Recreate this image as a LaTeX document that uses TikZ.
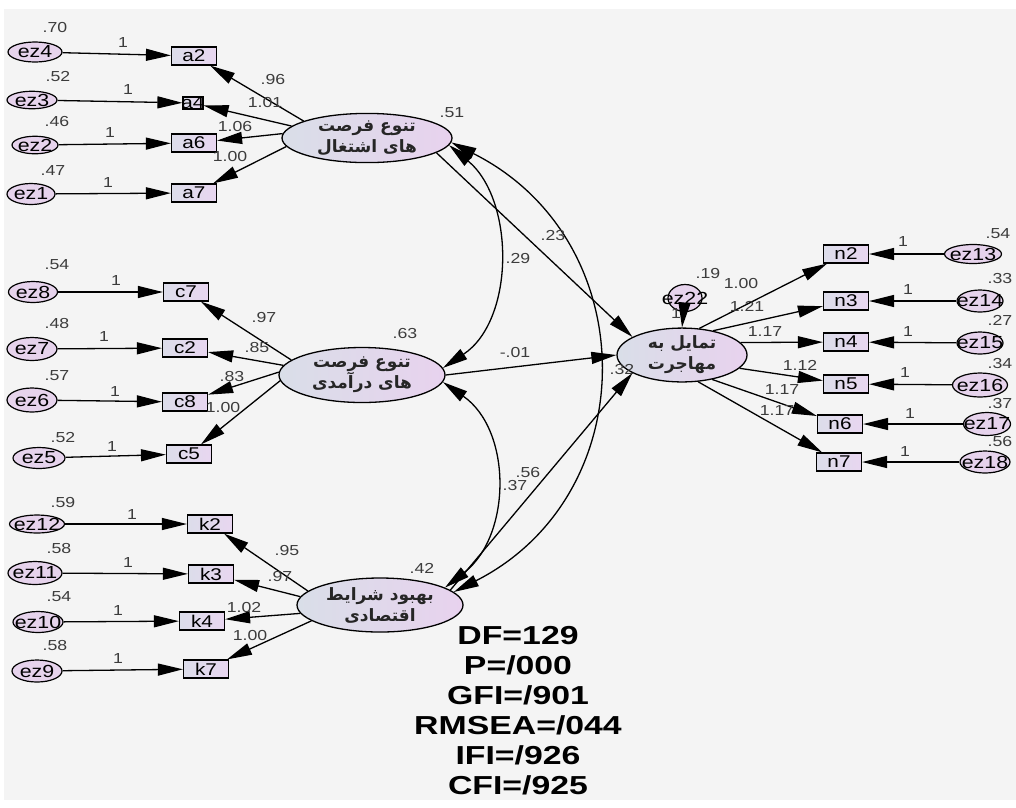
\documentclass[tikz,border=0pt]{standalone}
\usepackage{fontspec}
\setmainfont{Liberation Sans}[FakeStretch=1.22]
\newfontfamily\fafont[Script=Arabic]{DejaVu Sans Bold}
\newfontfamily\statfont{Liberation Sans}[FakeStretch=1.3]
\TeXXeTstate=1
\usetikzlibrary{shapes.geometric,arrows.meta}
\definecolor{bg}{HTML}{F4F4F4}
\definecolor{latL}{HTML}{D9DEE8}
\definecolor{latR}{HTML}{E8D2EE}
\definecolor{obsL}{HTML}{DCDDEA}
\definecolor{obsR}{HTML}{E8D6F0}
\definecolor{errc}{HTML}{E6D3EC}
\definecolor{labc}{HTML}{3C3C3C}
\newcommand{\zwbox}[1]{\makebox[0pt]{#1}}
\begin{document}
\begin{tikzpicture}[x=1pt,y=-1pt,
  lat/.style={ellipse, draw, line width=1.3pt, left color=latL, right color=latR, inner sep=0, align=center, font=\fafont\fontsize{17}{21}\selectfont, text=black!85},
  obs/.style={rectangle, draw, line width=1.2pt, left color=obsL, right color=obsR, minimum width=45pt, minimum height=18pt, inner sep=0, font=\fontsize{17}{17}\selectfont},
  err/.style={ellipse, draw, line width=1.2pt, fill=errc, minimum width=50pt, minimum height=21pt, inner sep=0, font=\fontsize{17.5}{17.5}\selectfont},
  lab/.style={inner sep=0, text=labc, font=\fontsize{14.5}{14.5}\selectfont},
  arr/.style={-{Triangle[length=25pt,width=12pt]}, line width=1.3pt},
  darr/.style={{Triangle[length=25pt,width=12pt]}-{Triangle[length=25pt,width=12pt]}, line width=1.3pt},
]
\useasboundingbox (0,0) rectangle (1016,807);
\fill[bg] (4,9) rectangle (1016,800);

% latent variables
\node[lat, minimum width=170pt, minimum height=47pt] (L1) at (367,138) {\beginR تنوع فرصت\endR\\\beginR های اشتغال\endR};
\node[lat, minimum width=166pt, minimum height=55pt] (L2) at (362,375) {\beginR تنوع فرصت\endR\\\beginR های درآمدی\endR};
\node[lat, minimum width=166pt, minimum height=54pt] (L3) at (380,605) {\beginR بهبود شرایط\endR\\\beginR اقتصادی\endR};
\node[lat, minimum width=130pt, minimum height=45pt] (L4) at (682,355) {\beginR تمایل به\endR\\\beginR مهاجرت\endR};

% group 1
\node[err,minimum width=54pt,minimum height=20pt] (ez4) at (35,52) {\zwbox{ez4}};
\node[err,minimum width=50pt,minimum height=17pt] (ez3) at (32,100) {\zwbox{ez3}};
\node[err,minimum width=46pt,minimum height=17pt] (ez2) at (35,145) {\zwbox{ez2}};
\node[err,minimum width=48pt,minimum height=21pt] (ez1) at (31,194) {\zwbox{ez1}};
\node[obs] (a2) at (194,56) {\zwbox{a2}};
\node[obs,minimum width=20pt,minimum height=12pt] (a4) at (193,103) {\zwbox{a4}};
\node[obs] (a6) at (194,143) {\zwbox{a6}};
\node[obs] (a7) at (194,193) {\zwbox{a7}};

% group 2
\node[err,minimum width=49pt,minimum height=21pt] (ez8) at (33,292) {\zwbox{ez8}};
\node[err,minimum width=50pt,minimum height=23pt] (ez7) at (32,349) {\zwbox{ez7}};
\node[err,minimum width=50pt,minimum height=24pt] (ez6) at (32,400) {\zwbox{ez6}};
\node[err,minimum width=52pt,minimum height=21pt] (ez5) at (39,458) {\zwbox{ez5}};
\node[obs] (c7) at (186,292) {\zwbox{c7}};
\node[obs] (c2) at (185,348) {\zwbox{c2}};
\node[obs] (c8) at (185,402) {\zwbox{c8}};
\node[obs] (c5) at (189,454) {\zwbox{c5}};

% group 3
\node[err,minimum width=55pt,minimum height=18pt] (ez12) at (37,524) {\zwbox{ez12}};
\node[err,minimum width=54pt,minimum height=23pt] (ez11) at (35,573) {\zwbox{ez11}};
\node[err,minimum width=50pt,minimum height=21pt] (ez10) at (38,622) {\zwbox{ez10}};
\node[err,minimum width=50pt,minimum height=22pt] (ez9) at (37,671) {\zwbox{ez9}};
\node[obs] (k2) at (210,524) {\zwbox{k2}};
\node[obs] (k3) at (211,574) {\zwbox{k3}};
\node[obs] (k4) at (202,621) {\zwbox{k4}};
\node[obs] (k7) at (206,669) {\zwbox{k7}};

% group 4
\node[err,minimum width=34pt,minimum height=27pt] (ez22) at (685,298) {\zwbox{ez22}};
\node[obs] (n2) at (846,254) {\zwbox{n2}};
\node[obs] (n3) at (846,301) {\zwbox{n3}};
\node[obs] (n4) at (846,342) {\zwbox{n4}};
\node[obs] (n5) at (846,384) {\zwbox{n5}};
\node[obs] (n6) at (840,424) {\zwbox{n6}};
\node[obs] (n7) at (839,462) {\zwbox{n7}};
\node[err,minimum width=57pt,minimum height=19pt] (ez13) at (973,254) {\zwbox{ez13}};
\node[err,minimum width=46pt,minimum height=22pt] (ez14) at (980,301) {\zwbox{ez14}};
\node[err,minimum width=46pt,minimum height=22pt] (ez15) at (980,343) {\zwbox{ez15}};
\node[err,minimum width=55pt,minimum height=24pt] (ez16) at (980,385) {\zwbox{ez16}};
\node[err,minimum width=47pt,minimum height=23pt] (ez17) at (987,424) {\zwbox{ez17}};
\node[err,minimum width=50pt,minimum height=22pt] (ez18) at (985,462) {\zwbox{ez18}};

% error arrows
\draw[arr] (ez4) -- (a2);
\draw[arr] (ez3) -- (a4);
\draw[arr] (ez2) -- (a6);
\draw[arr] (ez1) -- (a7);
\draw[arr] (ez8) -- (c7);
\draw[arr] (ez7) -- (c2);
\draw[arr] (ez6) -- (c8);
\draw[arr] (ez5) -- (c5);
\draw[arr] (ez12) -- (k2);
\draw[arr] (ez11) -- (k3);
\draw[arr] (ez10) -- (k4);
\draw[arr] (ez9) -- (k7);
\draw[arr] (ez13) -- (n2);
\draw[arr] (ez14) -- (n3);
\draw[arr] (ez15) -- (n4);
\draw[arr] (ez16) -- (n5);
\draw[arr] (ez17) -- (n6);
\draw[arr] (ez18) -- (n7);
\draw[arr] (ez22) -- (L4.north);

% loadings
\draw[arr] (L1.165) -- (a2);
\draw[arr] (L1.171) -- (a4);
\draw[arr] (L1.177) -- (a6);
\draw[arr] (L1.186) -- (a7);
\draw[arr] (L2.168) -- (c7);
\draw[arr] (L2.173) -- (c2);
\draw[arr] (L2.178) -- (c8);
\draw[arr] (L2.184) -- (c5);
\draw[arr] (L3.169) -- (k2);
\draw[arr] (L3.174) -- (k3);
\draw[arr] (L3.186) -- (k4);
\draw[arr] (L3.193) -- (k7);
\draw[arr] (L4.57) -- (n2);
\draw[arr] (L4.38) -- (n3);
\draw[arr] (L4.12) -- (n4);
\draw[arr] (L4.-13) -- (n5);
\draw[arr] (L4.-39) -- (n6);
\draw[arr] (L4.-59) -- (n7);

% structural paths and covariances
\draw[arr] (L1.-12) -- (L4.160);
\draw[arr] (L2.east) -- (L4.west);
\draw[arr] (L3.12) -- (L4.200);
\draw[darr] (L1.-5) .. controls (515,200) and (515,320) .. (L2.5);
\draw[darr] (L2.-5) .. controls (512,430) and (512,535) .. (L3.15);
\draw[darr] (L1.-3) .. controls (645,240) and (645,495) .. (L3.10);

% labels group 1
\node[lab] (v70) at (55,28) {.70};
\node[lab] (w4) at (123,43) {1};
\node[lab] (v52a) at (58,77) {.52};
\node[lab] (w3) at (128,90) {1};
\node[lab] (v46) at (57,122) {.46};
\node[lab] (w2) at (110,133) {1};
\node[lab] (v47) at (53,171) {.47};
\node[lab] (w1) at (108,183) {1};
\node[lab] (la2) at (273,80) {.96};
\node[lab] (la4) at (265,103) {1.01};
\node[lab] (la6) at (235,127) {1.06};
\node[lab] (la7) at (230,157) {1.00};
% labels group 2
\node[lab] (v54a) at (57,265) {.54};
\node[lab] (w8) at (116,281) {1};
\node[lab] (v48) at (57,323) {.48};
\node[lab] (w7) at (104,337) {1};
\node[lab] (v57) at (57,376) {.57};
\node[lab] (w6) at (115,391) {1};
\node[lab] (v52b) at (63,437) {.52};
\node[lab] (w5) at (112,446) {1};
\node[lab] (lc7) at (264,317) {.97};
\node[lab] (lc2) at (257,347) {.85};
\node[lab] (lc8) at (232,376) {.83};
\node[lab] (lc5) at (223,407) {1.00};
% labels group 3
\node[lab] (v59) at (63,502) {.59};
\node[lab] (w12) at (132,514) {1};
\node[lab] (v58a) at (59,548) {.58};
\node[lab] (w11) at (128,562) {1};
\node[lab] (v54b) at (59,597) {.54};
\node[lab] (w10) at (118,610) {1};
\node[lab] (v58b) at (55,645) {.58};
\node[lab] (w9) at (118,658) {1};
\node[lab] (lk2) at (287,550) {.95};
\node[lab] (lk3) at (280,576) {.97};
\node[lab] (lk4) at (244,607) {1.02};
\node[lab] (lk7) at (250,635) {1.00};
% latent labels
\node[lab] (v51) at (452,113) {.51};
\node[lab] (v63) at (405,333) {.63};
\node[lab] (v42) at (422,568) {.42};
\node[lab] (p23) at (553,235) {.23};
\node[lab] (p29) at (518,258) {.29};
\node[lab] (p01) at (515,352) {-.01};
\node[lab] (p32) at (622,369) {.32};
\node[lab] (p56) at (528,472) {.56};
\node[lab] (p37) at (515,485) {.37};
% labels group 4
\node[lab] (v19) at (708,273) {.19};
\node[lab] (w22) at (676,314) {1};
\node[lab] (ln2) at (741,283) {1.00};
\node[lab] (ln3) at (747,306) {1.21};
\node[lab] (ln4) at (765,332) {1.17};
\node[lab] (ln5) at (800,365) {1.12};
\node[lab] (ln6) at (782,390) {1.17};
\node[lab] (ln7) at (777,411) {1.17};
\node[lab] (w13) at (903,242) {1};
\node[lab] (w14) at (908,290) {1};
\node[lab] (w15) at (908,332) {1};
\node[lab] (w16) at (905,373) {1};
\node[lab] (w17) at (910,413) {1};
\node[lab] (w18) at (905,451) {1};
\node[lab] (v54c) at (998,234) {.54};
\node[lab] (v33) at (1000,278) {.33};
\node[lab] (v27) at (1000,320) {.27};
\node[lab] (v34) at (1000,363) {.34};
\node[lab] (v37) at (1000,403) {.37};
\node[lab] (v56) at (1000,441) {.56};

% fit statistics
\node[inner sep=0, align=center, font=\statfont\bfseries\fontsize{26}{30}\selectfont] (fit) at (518,711)
  {DF=129\\P=/000\\GFI=/901\\RMSEA=/044\\IFI=/926\\CFI=/925};
\end{tikzpicture}
\end{document}
